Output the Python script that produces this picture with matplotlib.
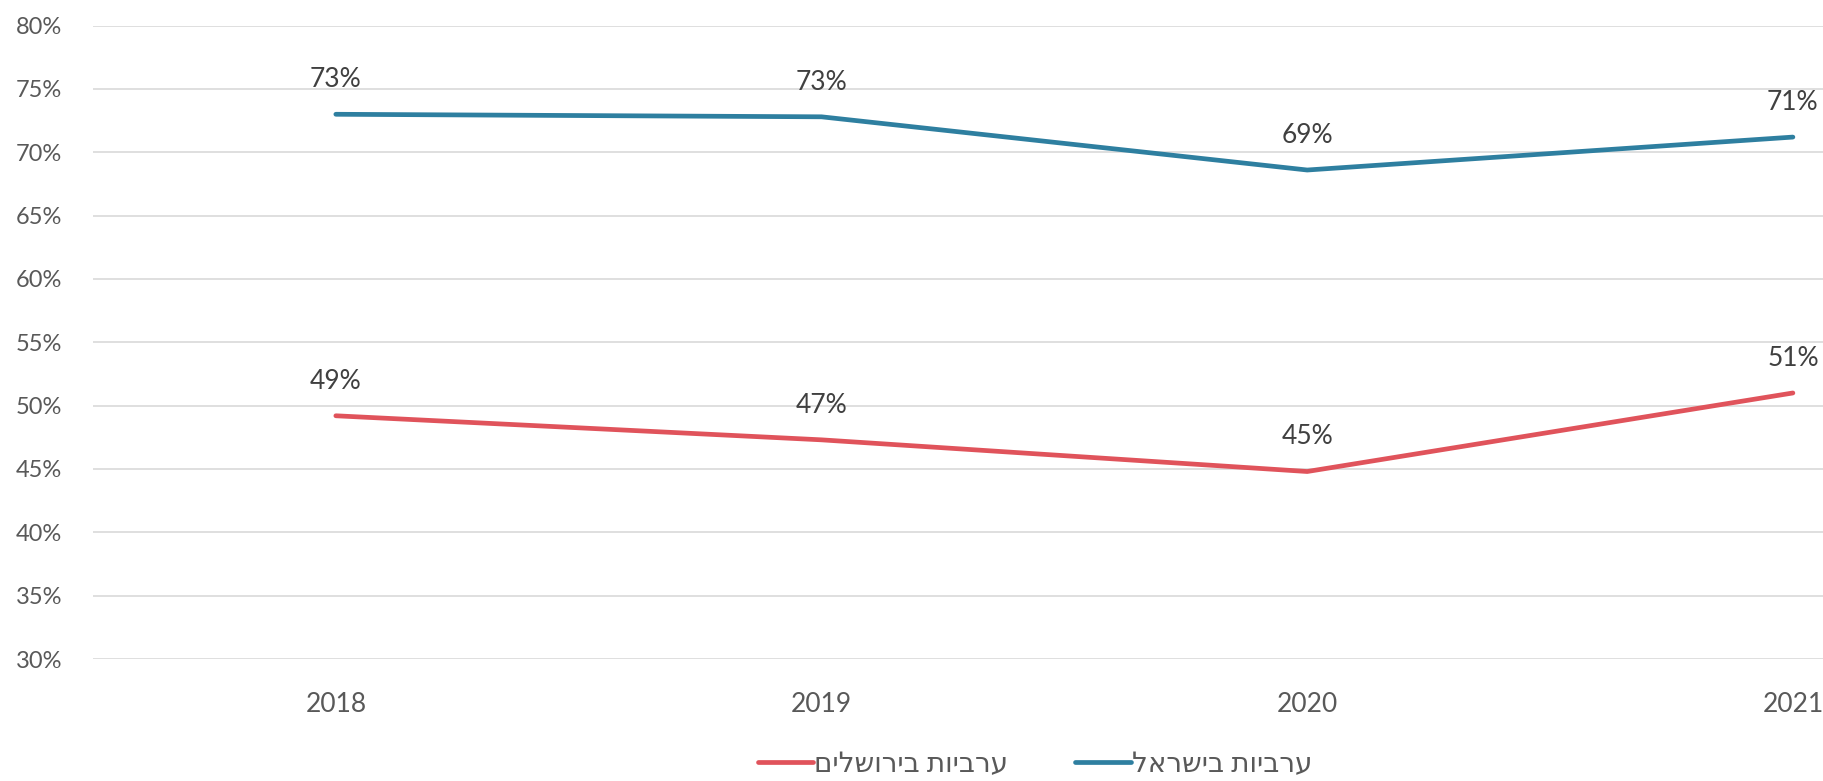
import matplotlib
matplotlib.use("Agg")
import matplotlib.pyplot as plt

years = ["2018", "2019", "2020", "2021"]
israel = [73.0, 72.8, 68.6, 71.2]
jerusalem = [49.2, 47.3, 44.8, 51.0]
israel_labels = ["73%", "73%", "69%", "71%"]
jerusalem_labels = ["49%", "47%", "45%", "51%"]
label_israel = "ערביות בישראל"
label_jerusalem = "ערביות בירושלים"

BLUE = "#2e7fa0"
RED = "#e0535b"
GRAY = "#595959"

plt.rcParams["font.family"] = ["Lato", "DejaVu Sans"]

W, H = 1823, 781
fig = plt.figure(figsize=(W / 100, H / 100), dpi=100)
ax = fig.add_axes([93 / W, 1 - 659 / H, 1 - 93 / W, (659 - 25.6) / H])

x = list(range(len(years)))
# matplotlib has no bidi support, so reverse the Hebrew strings for display
ax.plot(x, jerusalem, color=RED, lw=3.4, solid_capstyle="round", label=label_jerusalem[::-1])
ax.plot(x, israel, color=BLUE, lw=3.4, solid_capstyle="round", label=label_israel[::-1])

for xi, v, t in zip(x, israel, israel_labels):
    ax.annotate(t, (xi, v), xytext=(0, 16), textcoords="offset points",
                ha="center", va="bottom", fontsize=19, color="#404040")
for xi, v, t in zip(x, jerusalem, jerusalem_labels):
    ax.annotate(t, (xi, v), xytext=(0, 16), textcoords="offset points",
                ha="center", va="bottom", fontsize=19, color="#404040")

ax.set_xlim(-0.5, 3.062)
ax.set_ylim(30, 80)
ax.set_yticks(range(30, 81, 5))
ax.set_yticklabels([f"{v}%" for v in range(30, 81, 5)])
ax.set_xticks(x)
ax.set_xticklabels(years)
ax.tick_params(axis="y", length=0, pad=22, labelsize=17, labelcolor=GRAY)
ax.tick_params(axis="x", length=0, pad=24, labelsize=19, labelcolor=GRAY)
ax.grid(axis="y", color="#d9d9d9", lw=1.2)
ax.set_axisbelow(True)
for s in ax.spines.values():
    s.set_visible(False)

fig.legend(loc="center", bbox_to_anchor=(1035 / W, 1 - 764 / H), ncol=2, frameon=False,
           fontsize=20, labelcolor=GRAY, handlelength=2.0, handletextpad=0.05, columnspacing=2.4,
           borderpad=0.1)

fig.savefig("out.png", dpi=100)
